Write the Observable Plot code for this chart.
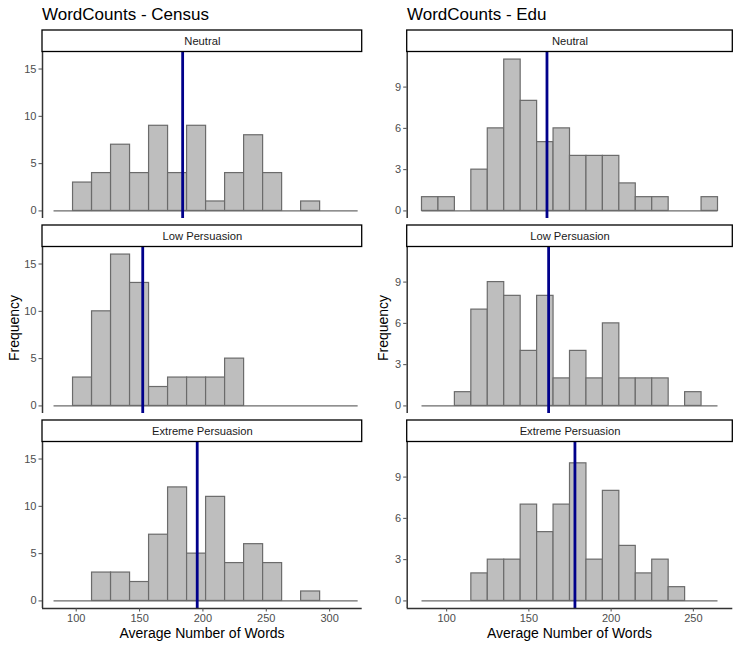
<!DOCTYPE html>
<html>
<head>
<meta charset="utf-8">
<script src="https://cdn.jsdelivr.net/npm/d3@7"></script>
<script src="https://cdn.jsdelivr.net/npm/@observablehq/plot@0.6"></script>
<style>
  body { margin: 0; background: #fff; }
  #chart { position: relative; width: 741px; height: 648px; overflow: hidden; background: #fff;
           font-family: "Liberation Sans", Arial, Helvetica, sans-serif; }
  #chart > .col { position: absolute; top: 0; }
  #chart > svg.overlay { position: absolute; left: 0; top: 0; pointer-events: none; }
</style>
</head>
<body>
<div id="chart"></div>
<script>
// Facet rows (same order in both columns)
const conditions = ["Neutral", "Low Persuasion", "Extreme Persuasion"];

// Census: histogram counts in 15-word bins starting at 82.5
const censusBinStart = 82.5;
const censusBinWidth = 15;
const censusNeutral = [0, 3, 4, 7, 4, 9, 4, 9, 1, 4, 8, 4, 0, 1, 0, 0];
const censusLow     = [0, 3, 10, 16, 13, 2, 3, 3, 3, 5, 0, 0, 0, 0, 0, 0];
const censusExtreme = [0, 0, 3, 3, 2, 7, 12, 5, 11, 4, 6, 4, 0, 1, 0, 0];
const censusMeans   = [184, 152.5, 195.5];
const censusXTicks  = [100, 150, 200, 250, 300];
const censusYTicks  = [0, 5, 10, 15];

// Edu: histogram counts in 10-word bins starting at 85
const eduBinStart = 85;
const eduBinWidth = 10;
const eduNeutral  = [1, 1, 0, 3, 6, 11, 8, 5, 6, 4, 4, 4, 2, 1, 1, 0, 0, 1];
const eduLow      = [0, 0, 1, 7, 9, 8, 4, 8, 2, 4, 2, 6, 2, 2, 2, 0, 1, 0];
const eduExtreme  = [0, 0, 0, 2, 3, 3, 7, 5, 7, 10, 3, 8, 4, 2, 3, 1, 0, 0];
const eduMeans    = [161, 162, 178];
const eduXTicks   = [100, 150, 200, 250];
const eduYTicks   = [0, 3, 6, 9];

const STRIP_H = 21.5;
const FONT = "Liberation Sans, Arial, Helvetica, sans-serif";

function histogramColumn({counts, binStart, binWidth, means, xDomain, yDomain, xTicks, yTicks,
                          width, marginLeft, marginRight}) {
  const bins = conditions.flatMap((c, i) => counts[i].map((n, j) => ({
    condition: c, x1: binStart + j * binWidth, x2: binStart + (j + 1) * binWidth, count: n
  })));
  const filled = bins.filter(d => d.count > 0);
  const binEnd = binStart + counts[0].length * binWidth;
  const rows = conditions.map((c, i) => ({condition: c, mean: means[i]}));

  return Plot.plot({
    width,
    height: 648,
    marginTop: 51.5,
    marginBottom: 40,
    marginLeft,
    marginRight,
    style: {fontFamily: FONT, fontSize: "11px", color: "#4d4d4d", background: "transparent", overflow: "visible"},
    x: {domain: xDomain},
    y: {domain: yDomain},
    fy: {domain: conditions, axis: null, paddingInner: 0.14615, paddingOuter: 0, round: false},
    marks: [
      // zero baseline spanning all bins
      Plot.ruleY(rows, {fy: "condition", y: () => 0, x1: () => binStart, x2: () => binEnd,
                        stroke: "#6b6b6b", strokeWidth: 1.2}),
      Plot.rectY(filled, {fy: "condition", x1: "x1", x2: "x2", y1: () => 0, y2: "count",
                          fill: "#bebebe", stroke: "#6b6b6b", strokeWidth: 1.2}),
      // mean word count
      Plot.ruleX(rows, {fy: "condition", x: "mean", stroke: "#00008b", strokeWidth: 2.8}),
      // axis lines
      Plot.ruleX(rows, {fy: "condition", x: () => xDomain[0], stroke: "#333", strokeWidth: 1.5}),
      Plot.ruleY(rows.slice(-1), {fy: "condition", y: () => yDomain[0], stroke: "#333", strokeWidth: 1.5}),
      Plot.axisY({ticks: yTicks, tickSize: 3.5, tickPadding: 2.5, label: null, fontSize: 11}),
      Plot.axisX({ticks: xTicks, tickSize: 3.5, tickPadding: 2.5, label: null, fontSize: 11}),
      // facet strip: boxed label sitting on top of each panel
      Plot.rect(rows, {fy: "condition", x1: () => xDomain[0], x2: () => xDomain[1],
                       y1: () => yDomain[1], y2: () => yDomain[1], insetTop: -STRIP_H,
                       fill: "#fff", stroke: "#000", strokeWidth: 1.3}),
      Plot.text(rows, {fy: "condition", text: "condition", frameAnchor: "top", dy: -STRIP_H / 2,
                       lineAnchor: "middle", fontSize: 11.2, fill: "#1a1a1a"})
    ]
  });
}

const chart = document.getElementById("chart");

const left = histogramColumn({
  counts: [censusNeutral, censusLow, censusExtreme],
  binStart: censusBinStart, binWidth: censusBinWidth, means: censusMeans,
  xDomain: [73.4, 325.7], yDomain: [-0.8, 16.8],
  xTicks: censusXTicks, yTicks: censusYTicks,
  width: 370, marginLeft: 42, marginRight: 8.3
});
const leftWrap = document.createElement("div");
leftWrap.className = "col";
leftWrap.style.left = "0px";
leftWrap.appendChild(left);
chart.appendChild(leftWrap);

const right = histogramColumn({
  counts: [eduNeutral, eduLow, eduExtreme],
  binStart: eduBinStart, binWidth: eduBinWidth, means: eduMeans,
  xDomain: [76, 274], yDomain: [-0.55, 11.55],
  xTicks: eduXTicks, yTicks: eduYTicks,
  width: 371, marginLeft: 36.7, marginRight: 8.7
});
const rightWrap = document.createElement("div");
rightWrap.className = "col";
rightWrap.style.left = "370px";
rightWrap.appendChild(right);
chart.appendChild(rightWrap);

// Titles and axis titles
const overlay = d3.select(chart).append("svg")
  .attr("class", "overlay").attr("width", 741).attr("height", 648)
  .style("font-family", FONT);

const titles = [
  {text: "WordCounts - Census", x: 42, panelMid: 202, yTitleX: 14},
  {text: "WordCounts - Edu", x: 407, panelMid: 569.5, yTitleX: 383}
];
for (const t of titles) {
  overlay.append("text").attr("x", t.x).attr("y", 19.5)
    .attr("font-size", 17).attr("fill", "#000").text(t.text);
  overlay.append("text").attr("x", t.panelMid).attr("y", 633)
    .attr("dy", "0.35em").attr("text-anchor", "middle")
    .attr("font-size", 14).attr("fill", "#000").text("Average Number of Words");
  overlay.append("text")
    .attr("transform", `translate(${t.yTitleX},328) rotate(-90)`)
    .attr("dy", "0.35em").attr("text-anchor", "middle")
    .attr("font-size", 14).attr("fill", "#000").text("Frequency");
}
</script>
</body>
</html>
